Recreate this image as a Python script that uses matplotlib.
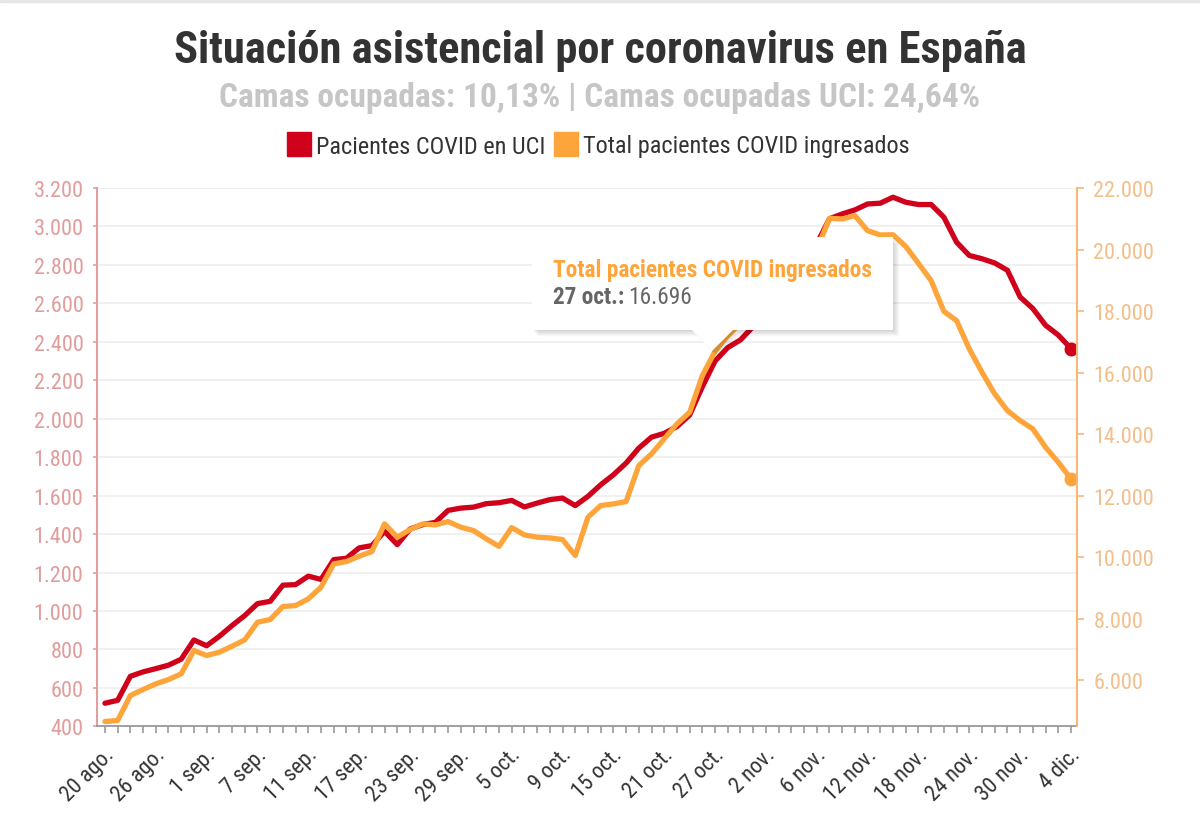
import numpy as np
import pandas as pd
import matplotlib
matplotlib.use("Agg")
import matplotlib.pyplot as plt
import matplotlib.transforms as mtransforms
from matplotlib.ticker import FuncFormatter, FixedLocator
from matplotlib.patches import Polygon, Rectangle
from matplotlib.lines import Line2D
from matplotlib.text import Annotation

plt.rcParams['font.family'] = ['Roboto Condensed', 'Liberation Sans Narrow', 'DejaVu Sans']

MESES = {8: 'ago.', 9: 'sep.', 10: 'oct.', 11: 'nov.', 12: 'dic.'}
# dias con datos (laborables) del 20 ago. al 4 dic. 2020
fechas = pd.bdate_range('2020-08-20', '2020-12-04')
etiquetas = [f"{d.day} {MESES[d.month]}" for d in fechas]

uci = [520, 535, 660, 683, 700, 718, 749, 849, 819, 868, 924, 976, 1038, 1050, 1134, 1137,
       1181, 1164, 1267, 1274, 1328, 1340, 1414, 1345, 1426, 1449, 1461, 1523, 1535, 1540,
       1558, 1563, 1575, 1541, 1561, 1579, 1587, 1548, 1596, 1656, 1708, 1769, 1847, 1904,
       1924, 1959, 2019, 2166, 2300, 2370, 2410, 2480, 2570, 2650, 2730, 2820, 2910, 3040,
       3065, 3086, 3117, 3121, 3152, 3126, 3114, 3114, 3048, 2918, 2849, 2832, 2810, 2772,
       2633, 2573, 2486, 2435, 2365]

ingresados = [4656, 4688, 5501, 5696, 5880, 6021, 6205, 6964, 6801, 6909, 7104, 7310, 7884,
              7971, 8394, 8426, 8643, 9022, 9780, 9856, 10029, 10181, 11080, 10647, 10896,
              11080, 11047, 11156, 10972, 10863, 10593, 10350, 10960, 10723, 10647, 10625,
              10571, 10051, 11297, 11676, 11730, 11806, 12976, 13355, 13843, 14330, 14709,
              15901, 16696, 17200, 17600, 18000, 18500, 18900, 19300, 19600, 20000, 21014,
              20993, 21101, 20613, 20473, 20480, 20100, 19550, 18988, 17990, 17688, 16768,
              16009, 15306, 14763, 14438, 14168, 13572, 13084, 12543]

ticks_uci = [400, 600, 800, 1000, 1200, 1400, 1600, 1800, 2000, 2200, 2400, 2600, 2800, 3000, 3200]
ticks_ingresados = [6000, 8000, 10000, 12000, 14000, 16000, 18000, 20000, 22000]

ROJO = '#d0011b'
NARANJA = '#fda53a'
W, H = 1200, 828


def miles(v, pos=None):
    return f"{v:,.0f}".replace(",", ".")


def fx(px):
    return px / W


def fy(py):
    return 1 - py / H


fig = plt.figure(figsize=(12, 8.28), dpi=100)
ax = fig.add_axes([fx(97.3), fy(727.3), fx(1076.7) - fx(97.3), fy(189) - fy(727.3)])
ax2 = ax.twinx()

x = np.arange(len(fechas))
ax.plot(x, uci, color=ROJO, lw=3.8, solid_joinstyle='round', solid_capstyle='round')
ax.plot(x[-1], uci[-1], 'o', color=ROJO, ms=9)
ax2.plot(x, ingresados, color=NARANJA, lw=3.8, solid_joinstyle='round', solid_capstyle='round')
ax2.plot(x[-1], ingresados[-1], 'o', color=NARANJA, ms=9)

ax.set_xlim(-0.6, len(x) - 1 + 0.45)
ax.set_ylim(400, 3200)
ax2.set_ylim(4500, 22000)

ax.yaxis.set_major_locator(FixedLocator(ticks_uci))
ax.yaxis.set_major_formatter(FuncFormatter(miles))
ax2.yaxis.set_major_locator(FixedLocator(ticks_ingresados))
ax2.yaxis.set_major_formatter(FuncFormatter(miles))

ax.set_xticks(x[::4])
ax.set_xticklabels(etiquetas[::4], rotation=45, ha='right', va='center',
                   rotation_mode='anchor', fontsize=16, color='#333333')
ax.set_xticks(x, minor=True)
ax.tick_params(axis='x', which='both', length=5, width=1.2, color='#999999', pad=13)
desplazamiento = mtransforms.ScaledTranslation(6 / 100, 0, fig.dpi_scale_trans)
for lab in ax.get_xticklabels():
    lab.set_transform(lab.get_transform() + desplazamiento)

ax.grid(axis='y', color='#eeeeee', lw=1.2)
ax.set_axisbelow(True)

for a in (ax, ax2):
    for s in a.spines.values():
        s.set_visible(False)
ax.spines['bottom'].set_visible(True)
ax.spines['bottom'].set_color('#999999')
ax.spines['bottom'].set_linewidth(1.3)
ax.spines['left'].set_visible(True)
ax.spines['left'].set_color('#dea0a0')
ax.spines['left'].set_linewidth(1.5)
ax2.spines['right'].set_visible(True)
ax2.spines['right'].set_color('#f7b877')
ax2.spines['right'].set_linewidth(1.5)

ax.tick_params(axis='y', length=3, width=1.2, color='#dea0a0', labelcolor='#e29c9c',
               labelsize=16, pad=7)
ax2.tick_params(axis='y', length=5, width=1.2, color='#f7b877', labelcolor='#f3bf8b',
                labelsize=16, pad=7)

# titulos y leyenda
fig.text(0.5, fy(51), "Situación asistencial por coronavirus en España", ha='center',
         va='center', fontsize=32, fontweight='bold', color='#333333')
fig.text(0.5, fy(98), "Camas ocupadas: 10,13% | Camas ocupadas UCI: 24,64%", ha='center',
         va='center', fontsize=24, fontweight='bold', color='#c6c6c6')

handles = [Line2D([], [], ls='', marker='s', ms=17, color=ROJO, label='Pacientes COVID en UCI'),
           Line2D([], [], ls='', marker='s', ms=17, color=NARANJA,
                  label='Total pacientes COVID ingresados')]
ax.legend(handles=handles, loc='center', bbox_to_anchor=(0.5, fy(147)),
          bbox_transform=fig.transFigure, ncol=2, frameon=False, fontsize=17.5,
          handlelength=0.7, handletextpad=0.35, columnspacing=0.5, labelcolor='#333333')

# linea gris superior
fig.add_artist(Rectangle((0, fy(3)), 1, fy(0) - fy(3), transform=fig.transFigure,
                         color='#e6e6e6', zorder=1))

# tooltip
caja = [(532, 238), (893, 238), (893, 331), (733, 331), (712, 352), (692, 331), (532, 331)]
for k in range(7, 0, -1):
    sombra = [(fx(px + k * 0.9), fy(py + k * 0.9)) for px, py in caja]
    fig.add_artist(Polygon(sombra, closed=True, transform=fig.transFigure,
                           facecolor='#000000', alpha=0.025, edgecolor='none', zorder=9))
fig.add_artist(Polygon([(fx(px), fy(py)) for px, py in caja], closed=True,
                       transform=fig.transFigure, facecolor='white', edgecolor='none',
                       zorder=10))
fig.text(fx(553), fy(270), "Total pacientes COVID ingresados", ha='left', va='center',
         fontsize=16.8, fontweight='bold', color=NARANJA, zorder=11)
t1 = fig.text(fx(553), fy(298), "27 oct.:", ha='left', va='center', fontsize=16.8,
              fontweight='bold', color='#666666', zorder=11)
t2 = Annotation("16.696", xy=(1, 0.5), xycoords=t1, xytext=(3, 0),
                textcoords='offset points', ha='left', va='center', fontsize=16.8,
                color='#666666', zorder=11)
fig.add_artist(t2)

fig.savefig("out.png", dpi=100)
